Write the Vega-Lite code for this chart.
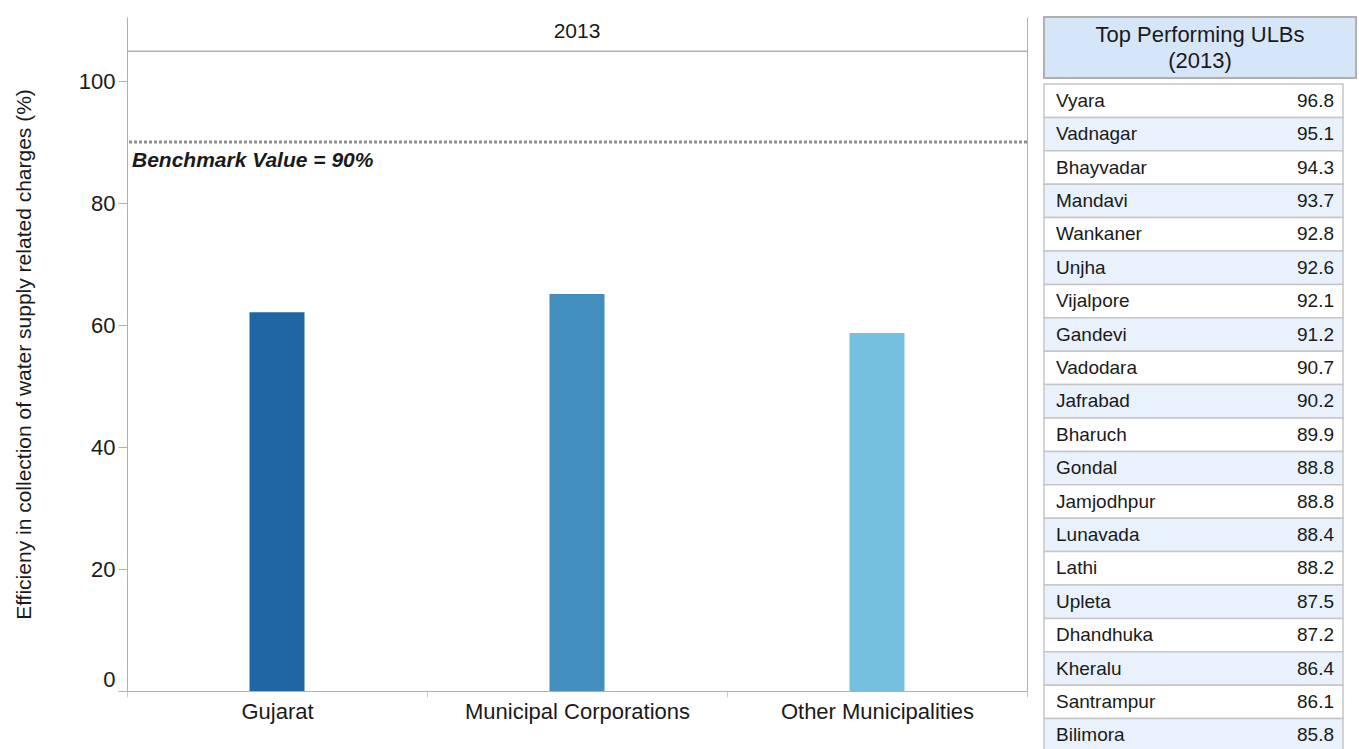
{
  "$schema": "https://vega.github.io/schema/vega-lite/v6.json",
  "padding": {"left": 13, "top": 16, "right": 0, "bottom": 0},
  "background": "#ffffff",
  "config": {
    "font": "Liberation Sans",
    "view": {"stroke": null},
    "text": {"color": "#1a1a1a", "font": "Liberation Sans", "fontWeight": "normal"},
    "axis": {
      "labelFont": "Liberation Sans",
      "titleFont": "Liberation Sans",
      "labelColor": "#1a1a1a",
      "titleColor": "#1a1a1a",
      "domainColor": "#b0b0b0",
      "tickColor": "#b0b0b0",
      "grid": false,
      "titleFontWeight": "normal"
    },
    "concat": {"spacing": 14}
  },
  "hconcat": [
    {
      "width": 900,
      "height": 674,
      "resolve": {"axis": {"y": "independent"}},
      "layer": [
        {
          "data": {
            "values": [
              {"category": "Gujarat", "efficiency": 62.1},
              {"category": "Municipal Corporations", "efficiency": 65.1},
              {"category": "Other Municipalities", "efficiency": 58.7}
            ]
          },
          "mark": {"type": "bar", "size": 55},
          "encoding": {
            "x": {
              "field": "category",
              "type": "nominal",
              "sort": null,
              "scale": {"paddingInner": 0, "paddingOuter": 0},
              "axis": {
                "title": null,
                "labelAngle": 0,
                "labelFontSize": 22,
                "labelLimit": 0,
                "tickBand": "extent",
                "tickSize": 6,
                "labelPadding": 4,
                "tickColor": "#c8c8c8"
              }
            },
            "y": {
              "field": "efficiency",
              "type": "quantitative",
              "scale": {"domain": [0, 110.5], "nice": false},
              "axis": {
                "values": [0, 20, 40, 60, 80, 100],
                "title": "Efficieny in collection of water supply related charges (%)",
                "titleFontSize": 21,
                "labelFontSize": 22,
                "tickSize": 9,
                "labelPadding": 3,
                "titlePadding": 44,
                "labelFlush": true,
                "labelFlushOffset": 0
              }
            },
            "color": {
              "field": "category",
              "type": "nominal",
              "sort": null,
              "scale": {
                "domain": ["Gujarat", "Municipal Corporations", "Other Municipalities"],
                "range": ["#1f67a4", "#418ebf", "#75bfdf"]
              },
              "legend": null
            }
          }
        },
        {
          "data": {"values": [{"benchmark": 90, "label": "Benchmark Value = 90%"}]},
          "mark": {"type": "rule", "color": "#8f8f8f", "strokeWidth": 3, "strokeDash": [3, 2]},
          "encoding": {
            "y": {
              "field": "benchmark",
              "type": "quantitative",
              "axis": {"orient": "right", "labels": false, "ticks": false, "title": null, "domainColor": "#b0b0b0"}
            }
          }
        },
        {
          "data": {"values": [{"benchmark": 90, "label": "Benchmark Value = 90%", "anchor": "Gujarat"}]},
          "mark": {
            "type": "text",
            "fontSize": 21,
            "fontWeight": "bold",
            "fontStyle": "italic",
            "align": "left",
            "baseline": "top",
            "dx": 5,
            "dy": 8
          },
          "encoding": {
            "x": {"field": "anchor", "type": "nominal", "bandPosition": 0},
            "y": {"field": "benchmark", "type": "quantitative", "axis": null},
            "text": {"field": "label"}
          }
        },
        {
          "data": {"values": [{"year": "2013", "divider": 104.9, "labelpos": 108.1}]},
          "mark": {"type": "rule", "color": "#b0b0b0", "strokeWidth": 1.5},
          "encoding": {"y": {"field": "divider", "type": "quantitative", "axis": null}}
        },
        {
          "data": {"values": [{"year": "2013", "divider": 104.9, "labelpos": 108.1}]},
          "mark": {"type": "text", "fontSize": 21, "fontWeight": "normal", "baseline": "middle"},
          "encoding": {
            "y": {"field": "labelpos", "type": "quantitative", "axis": null},
            "text": {"field": "year"}
          }
        }
      ]
    },
    {
      "spacing": 4,
      "vconcat": [
        {
          "width": 312,
          "height": 61,
          "view": {"fill": "#d6e6f9", "stroke": "#b0b0b0", "strokeWidth": 2},
          "data": {"values": [{"heading": "Top Performing ULBs (2013)"}]},
          "mark": {
            "type": "text",
            "text": ["Top Performing ULBs", "(2013)"],
            "fontSize": 22,
            "lineHeight": 26,
            "baseline": "middle",
            "dy": -13
          },
          "encoding": {}
        },
        {
          "width": 299,
          "height": 668,
          "data": {
            "values": [
              {"rank": 1, "ulb": "Vyara", "efficiency": 96.8},
              {"rank": 2, "ulb": "Vadnagar", "efficiency": 95.1},
              {"rank": 3, "ulb": "Bhayvadar", "efficiency": 94.3},
              {"rank": 4, "ulb": "Mandavi", "efficiency": 93.7},
              {"rank": 5, "ulb": "Wankaner", "efficiency": 92.8},
              {"rank": 6, "ulb": "Unjha", "efficiency": 92.6},
              {"rank": 7, "ulb": "Vijalpore", "efficiency": 92.1},
              {"rank": 8, "ulb": "Gandevi", "efficiency": 91.2},
              {"rank": 9, "ulb": "Vadodara", "efficiency": 90.7},
              {"rank": 10, "ulb": "Jafrabad", "efficiency": 90.2},
              {"rank": 11, "ulb": "Bharuch", "efficiency": 89.9},
              {"rank": 12, "ulb": "Gondal", "efficiency": 88.8},
              {"rank": 13, "ulb": "Jamjodhpur", "efficiency": 88.8},
              {"rank": 14, "ulb": "Lunavada", "efficiency": 88.4},
              {"rank": 15, "ulb": "Lathi", "efficiency": 88.2},
              {"rank": 16, "ulb": "Upleta", "efficiency": 87.5},
              {"rank": 17, "ulb": "Dhandhuka", "efficiency": 87.2},
              {"rank": 18, "ulb": "Kheralu", "efficiency": 86.4},
              {"rank": 19, "ulb": "Santrampur", "efficiency": 86.1},
              {"rank": 20, "ulb": "Bilimora", "efficiency": 85.8}
            ]
          },
          "layer": [
            {
              "mark": {"type": "rect", "stroke": "#c6c6c6", "strokeWidth": 1.5},
              "encoding": {
                "y": {"field": "ulb", "type": "nominal", "sort": null, "scale": {"paddingInner": 0, "paddingOuter": 0}, "axis": null},
                "fill": {"condition": {"test": "datum.rank % 2 == 0", "value": "#e8f1fc"}, "value": "#ffffff"}
              }
            },
            {
              "mark": {"type": "text", "align": "left", "baseline": "middle", "dx": 12, "fontSize": 19},
              "encoding": {
                "y": {"field": "ulb", "type": "nominal", "sort": null, "axis": null},
                "x": {"datum": "ULB", "scale": {"type": "point", "domain": ["ULB", "Value"], "padding": 0}, "axis": null},
                "text": {"field": "ulb"}
              }
            },
            {
              "mark": {"type": "text", "align": "right", "baseline": "middle", "dx": -9, "fontSize": 19},
              "encoding": {
                "y": {"field": "ulb", "type": "nominal", "sort": null, "axis": null},
                "x": {"datum": "Value", "axis": null},
                "text": {"field": "efficiency", "type": "quantitative", "format": ".1f"}
              }
            }
          ]
        }
      ]
    }
  ]
}
